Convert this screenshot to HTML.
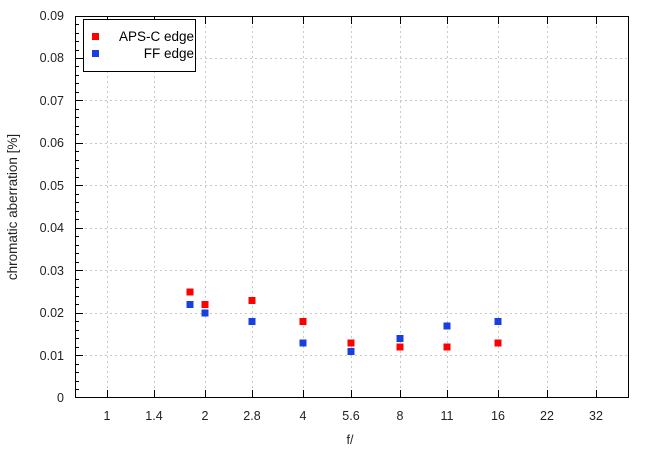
<!DOCTYPE html>
<html><head><meta charset="utf-8"><style>
body{margin:0;background:#fff}
svg{display:block;font-family:"Liberation Sans",sans-serif;font-size:12.5px}
</style></head><body>
<svg width="650" height="450" viewBox="0 0 650 450">
<g stroke="#c8c8c8" stroke-dasharray="2,3" stroke-width="1">
<line x1="75" x2="628" y1="355.5" y2="355.5"/><line x1="75" x2="628" y1="313.5" y2="313.5"/>
<line x1="75" x2="628" y1="270.5" y2="270.5"/><line x1="75" x2="628" y1="228.5" y2="228.5"/>
<line x1="75" x2="628" y1="185.5" y2="185.5"/><line x1="75" x2="628" y1="143.5" y2="143.5"/>
<line x1="75" x2="628" y1="100.5" y2="100.5"/><line x1="75" x2="628" y1="58.5" y2="58.5"/>
<line x1="107.5" x2="107.5" y1="16" y2="398"/><line x1="154.5" x2="154.5" y1="16" y2="398"/>
<line x1="205.5" x2="205.5" y1="16" y2="398"/><line x1="252.5" x2="252.5" y1="16" y2="398"/>
<line x1="303.5" x2="303.5" y1="16" y2="398"/><line x1="351.5" x2="351.5" y1="16" y2="398"/>
<line x1="400.5" x2="400.5" y1="16" y2="398"/><line x1="447.5" x2="447.5" y1="16" y2="398"/>
<line x1="498.5" x2="498.5" y1="16" y2="398"/><line x1="547.5" x2="547.5" y1="16" y2="398"/>
<line x1="596.5" x2="596.5" y1="16" y2="398"/>
</g>
<rect x="75.5" y="16.5" width="553" height="381" fill="none" stroke="#000" stroke-width="1"/>
<g stroke="#000" stroke-width="1">
<path d="M75 355.5h8M75 313.5h8M75 270.5h8M75 228.5h8M75 185.5h8M75 143.5h8M75 100.5h8M75 58.5h8"/>
<path d="M75 389.5h4M75 381.5h4M75 372.5h4M75 364.5h4M75 347.5h4M75 338.5h4M75 330.5h4M75 321.5h4M75 304.5h4M75 296.5h4M75 287.5h4M75 279.5h4M75 262.5h4M75 253.5h4M75 245.5h4M75 236.5h4M75 219.5h4M75 211.5h4M75 202.5h4M75 194.5h4M75 177.5h4M75 168.5h4M75 160.5h4M75 151.5h4M75 134.5h4M75 126.5h4M75 117.5h4M75 109.5h4M75 92.5h4M75 83.5h4M75 75.5h4M75 66.5h4M75 50.5h4M75 41.5h4M75 33.5h4M75 24.5h4"/>
<path d="M107.5 398v-8M154.5 398v-8M205.5 398v-8M252.5 398v-8M303.5 398v-8M351.5 398v-8M400.5 398v-8M447.5 398v-8M498.5 398v-8M547.5 398v-8M596.5 398v-8"/>
<path d="M107.5 16v8M154.5 16v8M205.5 16v8M252.5 16v8M303.5 16v8M351.5 16v8M400.5 16v8M447.5 16v8M498.5 16v8M547.5 16v8M596.5 16v8"/>
</g>
<g fill="#222" text-anchor="end">
<text x="64" y="402">0</text><text x="64" y="360">0.01</text><text x="64" y="317">0.02</text>
<text x="64" y="275">0.03</text><text x="64" y="232">0.04</text><text x="64" y="190">0.05</text>
<text x="64" y="147">0.06</text><text x="64" y="105">0.07</text><text x="64" y="62">0.08</text>
<text x="64" y="20">0.09</text>
</g>
<g fill="#222" text-anchor="middle">
<text x="107" y="420">1</text><text x="154" y="420">1.4</text><text x="205" y="420">2</text>
<text x="252" y="420">2.8</text><text x="303" y="420">4</text><text x="351" y="420">5.6</text>
<text x="400" y="420">8</text><text x="447" y="420">11</text><text x="498" y="420">16</text>
<text x="547" y="420">22</text><text x="596" y="420">32</text>
<text x="350" y="444">f/</text>
<text transform="translate(17,207) rotate(-90)" font-size="13.5">chromatic aberration [%]</text>
</g>
<rect x="83.5" y="19.5" width="112" height="52" fill="#fff" stroke="#000"/>
<rect x="92" y="33" width="7" height="7" fill="#f00"/>
<rect x="92" y="50" width="7" height="7" fill="#1a3fe0"/>
<g fill="#000" text-anchor="end" font-size="13.5"><text x="194" y="41">APS-C edge</text><text x="194" y="58">FF edge</text></g>
<g fill="#f00">
<rect x="186.5" y="288.5" width="7" height="7"/><rect x="201.5" y="301" width="7" height="7"/>
<rect x="248.5" y="297" width="7" height="7"/><rect x="299.5" y="318" width="7" height="7"/>
<rect x="347.5" y="339.5" width="7" height="7"/><rect x="396.5" y="343.5" width="7" height="7"/>
<rect x="443.5" y="343.5" width="7" height="7"/><rect x="494.5" y="339.5" width="7" height="7"/>
</g>
<g fill="#1a3fe0">
<rect x="186.5" y="301" width="7" height="7"/><rect x="201.5" y="309.5" width="7" height="7"/>
<rect x="248.5" y="318" width="7" height="7"/><rect x="299.5" y="339.5" width="7" height="7"/>
<rect x="347.5" y="348" width="7" height="7"/><rect x="396.5" y="335" width="7" height="7"/>
<rect x="443.5" y="322.5" width="7" height="7"/><rect x="494.5" y="318" width="7" height="7"/>
</g>
</svg>
</body></html>
